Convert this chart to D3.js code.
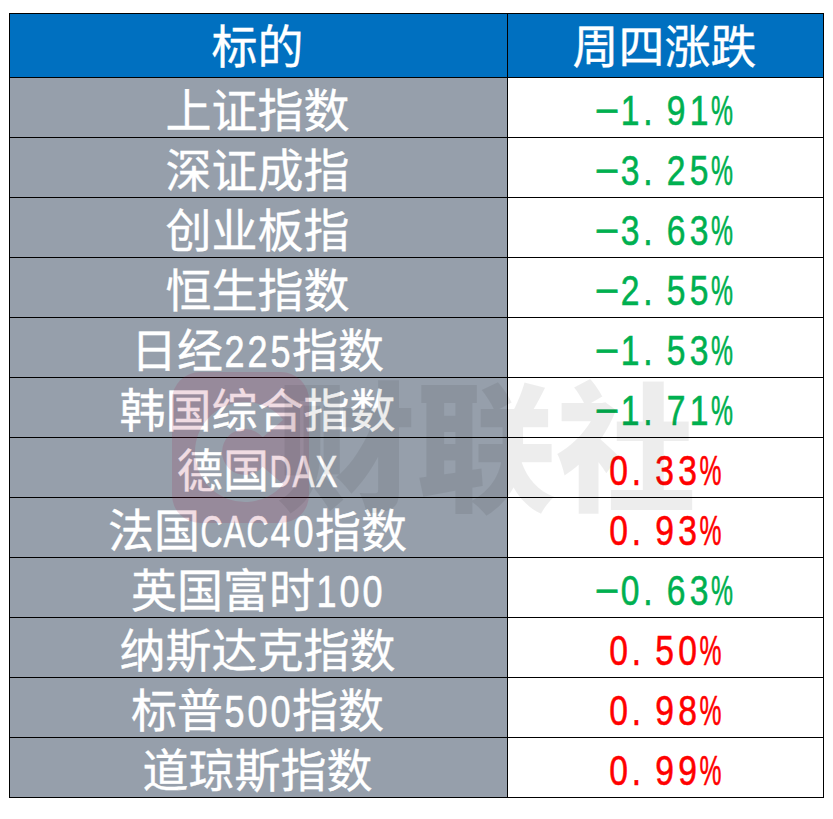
<!DOCTYPE html>
<html>
<head>
<meta charset="utf-8">
<script src="https://cdn.jsdelivr.net/npm/d3@7"></script>
<style>
  html, body { margin: 0; padding: 0; background: #fff; }
  svg { display: block; }
</style>
</head>
<body>
<div class="canvas"></div>
<script>
var headers = ["标的", "周四涨跌"];
var names = ["上证指数", "深证成指", "创业板指", "恒生指数", "日经225指数", "韩国综合指数",
  "德国DAX", "法国CAC40指数", "英国富时100", "纳斯达克指数", "标普500指数", "道琼斯指数"];
var changes = [-1.91, -3.25, -3.63, -2.55, -1.53, -1.71, 0.33, 0.93, -0.63, 0.50, 0.98, 0.99];

var width = 833, height = 819;
var left = 9.5, mid = 507.5, right = 823.5;
var tableTop = 13.5, headH = 64, rowH = 60;

var cjk = "'Noto Sans CJK SC', sans-serif";
var latin = "'Liberation Sans', sans-serif";

var canvas = d3.select(".canvas").append("svg")
  .attr("width", width)
  .attr("height", height);

var y = d3.scaleBand()
  .domain(d3.range(names.length))
  .range([tableTop + headH, tableTop + headH + rowH * names.length]);
var fmt = d3.format(".2f");

// header
canvas.append("rect")
  .attr("x", left).attr("y", tableTop)
  .attr("width", right - left).attr("height", headH)
  .attr("fill", "#0070c0");

// left column background
canvas.append("rect")
  .attr("x", left).attr("y", y.range()[0])
  .attr("width", mid - left).attr("height", y.range()[1] - y.range()[0])
  .attr("fill", "#969fab");

// half width latin, full width cjk, like the fixed pitch font of the table
function drawText(str, cx, cy, fill, latinSize) {
  var size = 46, half = 23;
  var chars = Array.from(str);
  var isNarrow = function(c) { return c.charCodeAt(0) < 0x2e80; };
  var total = d3.sum(chars, function(c) { return isNarrow(c) ? half : size; });
  var pos = cx - total / 2;
  chars.forEach(function(c) {
    var narrow = isNarrow(c);
    var w = narrow ? half : size;
    var t = canvas.append("text")
      .attr("text-anchor", "middle")
      .attr("fill", fill)
      .attr("stroke", fill)
      .attr("stroke-width", narrow ? 0.6 : 0.35)
      .attr("font-family", narrow ? latin : cjk)
      .attr("font-size", narrow ? latinSize : size)
      .text(c);
    var sx = 1;
    if (narrow) {
      var len = t.node().getComputedTextLength();
      sx = c === "\u2212" ? 1 : Math.min(0.8, (half - 1) / len);
    }
    var shift = c === "." ? -5 : 0;
    t.attr("transform", "translate(" + (pos + w / 2 + shift) + "," + cy + ") scale(" + sx + ",1)");
    pos += w;
  });
}

drawText(headers[0], (left + mid) / 2 - 1, tableTop + 49, "#fff", 45);
drawText(headers[1], (mid + right) / 2 - 1, tableTop + 49, "#fff", 45);

names.forEach(function(name, i) {
  drawText(name, (left + mid) / 2 - 1, y(i) + 49, "#fff", 45);
  drawText(fmt(changes[i]) + "%", (mid + right) / 2 - 1, y(i) + 47.5, changes[i] < 0 ? "#00b050" : "#ff0000", 42);
});

// grid lines
var lines = canvas.append("g").attr("stroke", "#000").attr("stroke-width", 1).attr("fill", "none");
names.forEach(function(n, i) {
  lines.append("line").attr("x1", left).attr("x2", right).attr("y1", y(i)).attr("y2", y(i));
});
lines.append("line").attr("x1", mid).attr("x2", mid).attr("y1", tableTop).attr("y2", y.range()[1]);
lines.append("rect").attr("x", left).attr("y", tableTop)
  .attr("width", right - left).attr("height", y.range()[1] - tableTop);

// watermark, logo is a pink rounded square with a C cut out
var ring = d3.arc()
  .innerRadius(23)
  .outerRadius(50)
  .startAngle(130 * Math.PI / 180)
  .endAngle(410 * Math.PI / 180);
var mask = canvas.append("mask").attr("id", "logo-mask")
  .attr("maskUnits", "userSpaceOnUse")
  .attr("x", 0).attr("y", 0).attr("width", width).attr("height", height);
mask.append("rect").attr("width", width).attr("height", height).attr("fill", "#fff");
mask.append("path").attr("d", ring()).attr("transform", "translate(245,452)").attr("fill", "#000");

canvas.append("rect")
  .attr("x", 172).attr("y", 372)
  .attr("width", 137).attr("height", 151)
  .attr("rx", 28)
  .attr("mask", "url(#logo-mask)")
  .attr("fill", "#a01040")
  .attr("opacity", 0.14);
canvas.append("text")
  .attr("x", 276).attr("y", 500)
  .attr("font-family", cjk).attr("font-weight", 900)
  .attr("font-size", 140).attr("fill", "#000").attr("opacity", 0.065)
  .text("财联社");
</script>
</body>
</html>
